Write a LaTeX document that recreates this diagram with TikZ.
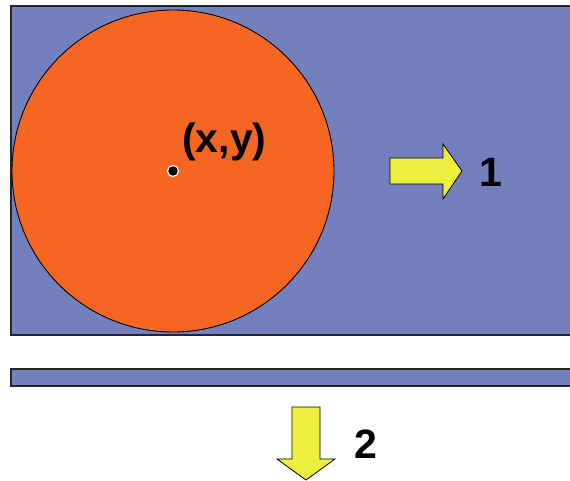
\documentclass[tikz,border=0pt]{standalone}
\usepackage{fontspec}
\setmainfont{Liberation Sans}
\definecolor{slab}{HTML}{7480BE}
\definecolor{disc}{HTML}{F46621}
\definecolor{arrowy}{HTML}{EEEE3E}
\begin{document}
\begin{tikzpicture}[x=1pt,y=-1pt,
  slabbox/.style={fill=slab,draw=black!85,line width=1.2pt},
  bigarrow/.style={fill=arrowy,draw=black,line width=0.8pt,line join=miter},
  lbl/.style={font=\bfseries\fontsize{41}{41}\selectfont,inner sep=0pt,anchor=base west}]
\useasboundingbox (0,0) rectangle (570,481);
\fill[white] (0,0) rectangle (570,481);
% top slab
\path[slabbox] (11,6) rectangle (575,335);
% disc
\node[circle,fill=disc,draw=black,line width=0.9pt,minimum size=322pt,inner sep=0pt] (disc) at (173,171) {};
\node[circle,fill=black,draw=white,line width=1.2pt,minimum size=11pt,inner sep=0pt] (pt) at (173,171) {};
\node[lbl] (xy) at (182,153) {(x,y)};
% right arrow
\path[bigarrow] (390,158) -- (443,158) -- (443,144) -- (462,171) -- (443,199) -- (443,184) -- (390,184) -- cycle;
\node[lbl] (one) at (479,186) {1};
% bottom bar
\path[slabbox] (11,369) rectangle (575,386);
% down arrow
\path[bigarrow] (292,407) -- (320,407) -- (320,459) -- (335,459) -- (306,480) -- (277,459) -- (292,459) -- cycle;
\node[lbl] (two) at (354,458) {2};
\end{tikzpicture}
\end{document}
